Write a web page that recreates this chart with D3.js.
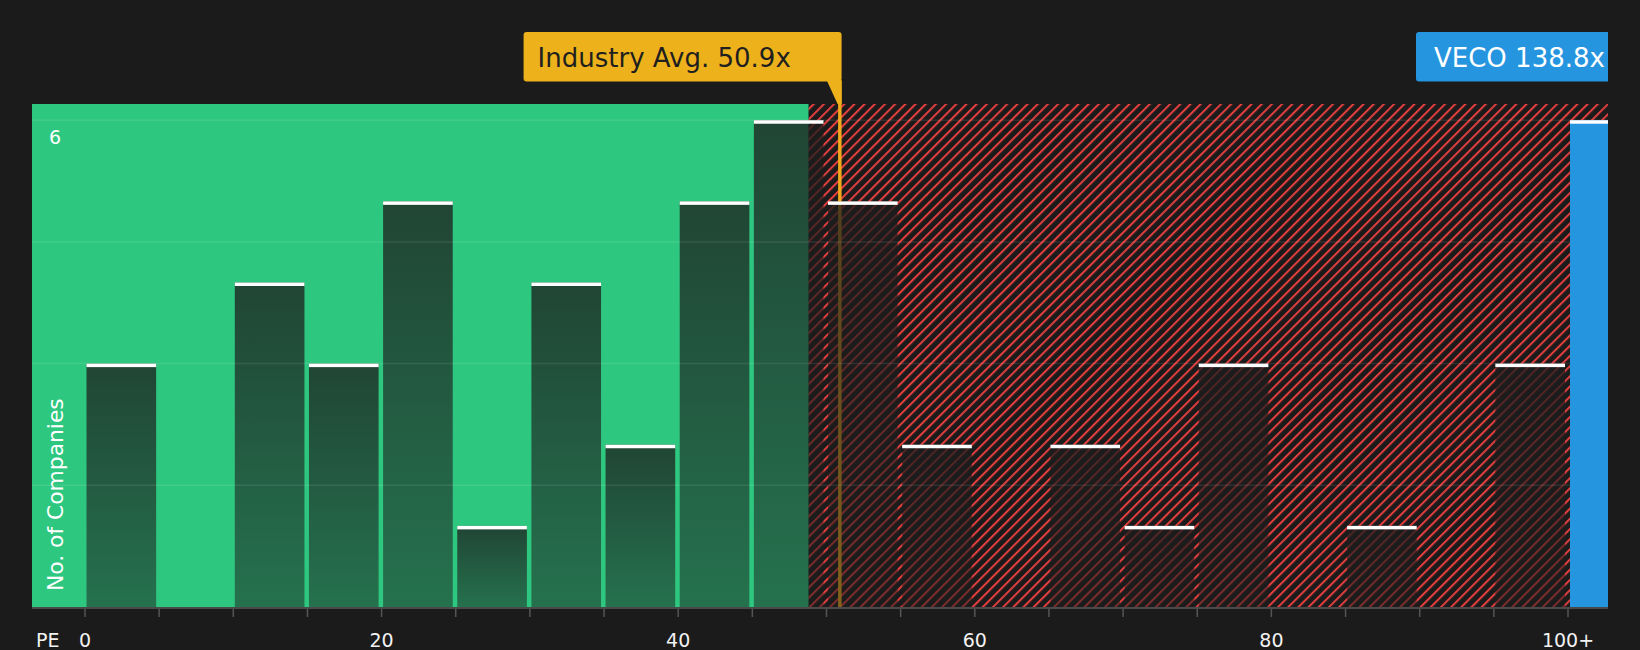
<!DOCTYPE html>
<html>
<head>
<meta charset="utf-8">
<script src="https://cdn.jsdelivr.net/npm/d3@7"></script>
<style>
  html, body { margin: 0; padding: 0; background: #1b1b1b; }
  svg { display: block; font-family: "DejaVu Sans", sans-serif; }
</style>
</head>
<body>
<div id="chart"></div>
<script>
// PE bins (start of each 5-wide bin) and number of companies in each
const binStarts = [0, 5, 10, 15, 20, 25, 30, 35, 40, 45, 50, 55, 60, 65, 70, 75, 80, 85, 90, 95];
const counts    = [3, 0, 4, 3, 5, 1, 4, 2, 5, 6, 5, 2, 0, 2, 1, 3, 0, 1, 0, 3];
const binWidth = 5;

// x axis ticks
const minorTicks = d3.range(0, 101, 5);
const xTickValues = [0, 20, 40, 60, 80, 100];
const xTickLabels = ["0", "20", "40", "60", "80", "100+"];

// y axis
const yGrid = [1.5, 3, 4.5, 6];
const yLabelTicks = [6];
const yMax = 6.2;

// reference markers
const fairUpper = 48.8;          // end of the green band
const industryAvg = 50.9;
const industryLabel = "Industry Avg. 50.9x";
const companyName = "VECO";
const companyPE = 138.8;
const companyCount = 6;

// layout
const W = 1640, H = 650;
const plot = { left: 32, right: 1608, top: 104, bottom: 607 };

const svg = d3.select("#chart")
  .append("svg")
  .attr("width", W)
  .attr("height", H);

const x = d3.scaleLinear().domain([0, 100]).range([85, 1568]);
const y = d3.scaleLinear().domain([0, yMax]).range([plot.bottom, plot.top]);

const defs = svg.append("defs");

// red hatch for the expensive zone
const hatch = defs.append("pattern")
  .attr("id", "hatch")
  .attr("patternUnits", "userSpaceOnUse")
  .attr("width", 7.2)
  .attr("height", 7.2)
  .attr("patternTransform", "rotate(45)");
hatch.append("rect").attr("width", 7.2).attr("height", 7.2).attr("fill", "#1b1b1b");
hatch.append("line")
  .attr("x1", 1).attr("x2", 1)
  .attr("y1", 0).attr("y2", 7.2)
  .attr("stroke", "#e53e3e")
  .attr("stroke-width", 2);

// dark translucent fill for the bars
const grad = defs.append("linearGradient")
  .attr("id", "barGrad")
  .attr("x1", 0).attr("x2", 0).attr("y1", 0).attr("y2", 1);
grad.append("stop").attr("offset", "0%").attr("stop-color", "#1c1c1c").attr("stop-opacity", 0.76);
grad.append("stop").attr("offset", "100%").attr("stop-color", "#1c1c1c").attr("stop-opacity", 0.5);

// background bands
svg.append("rect")
  .attr("x", plot.left)
  .attr("y", plot.top)
  .attr("width", x(fairUpper) - plot.left)
  .attr("height", plot.bottom - plot.top)
  .attr("fill", "#2ec780");

svg.append("rect")
  .attr("x", x(fairUpper))
  .attr("y", plot.top)
  .attr("width", plot.right - x(fairUpper))
  .attr("height", plot.bottom - plot.top)
  .attr("fill", "url(#hatch)");

// industry average line (sits under the bars)
svg.append("line")
  .attr("x1", x(industryAvg)).attr("x2", x(industryAvg))
  .attr("y1", 81).attr("y2", plot.bottom)
  .attr("stroke", "#f0a81c")
  .attr("stroke-width", 3.5);

// bars
const bins = binStarts.map((b, i) => ({ start: b, count: counts[i] })).filter(d => d.count > 0);

svg.selectAll("rect.bar")
  .data(bins)
  .enter()
  .append("rect")
  .attr("class", "bar")
  .attr("x", d => x(d.start) + 1.5)
  .attr("width", d => x(d.start + binWidth) - x(d.start) - 4.5)
  .attr("y", d => y(d.count))
  .attr("height", d => y(0) - y(d.count))
  .attr("fill", "url(#barGrad)");

svg.selectAll("rect.cap")
  .data(bins)
  .enter()
  .append("rect")
  .attr("class", "cap")
  .attr("x", d => x(d.start) + 1.5)
  .attr("width", d => x(d.start + binWidth) - x(d.start) - 4.5)
  .attr("y", d => y(d.count))
  .attr("height", 3.5)
  .attr("fill", "#ffffff");

// gridlines
svg.selectAll("line.grid")
  .data(yGrid)
  .enter()
  .append("line")
  .attr("class", "grid")
  .attr("x1", plot.left).attr("x2", plot.right)
  .attr("y1", d => y(d)).attr("y2", d => y(d))
  .attr("stroke", "#ffffff")
  .attr("stroke-opacity", 0.09)
  .attr("stroke-width", 1.5);

// company bar (100+)
svg.append("rect")
  .attr("x", x(100) + 2)
  .attr("width", plot.right - x(100) - 2)
  .attr("y", y(companyCount))
  .attr("height", y(0) - y(companyCount))
  .attr("fill", "#2595e0");
svg.append("rect")
  .attr("x", x(100) + 2)
  .attr("width", plot.right - x(100) - 2)
  .attr("y", y(companyCount))
  .attr("height", 3.5)
  .attr("fill", "#ffffff");

// x axis
svg.append("line")
  .attr("x1", plot.left).attr("x2", plot.right)
  .attr("y1", plot.bottom + 1).attr("y2", plot.bottom + 1)
  .attr("stroke", "#4a4a4a")
  .attr("stroke-width", 2);

svg.selectAll("line.tick")
  .data(minorTicks)
  .enter()
  .append("line")
  .attr("class", "tick")
  .attr("x1", d => x(d)).attr("x2", d => x(d))
  .attr("y1", plot.bottom + 2).attr("y2", plot.bottom + 10)
  .attr("stroke", "#555")
  .attr("stroke-width", 1.5);

svg.selectAll("text.xlab")
  .data(xTickValues)
  .enter()
  .append("text")
  .attr("class", "xlab")
  .attr("x", d => x(d))
  .attr("y", 647)
  .attr("text-anchor", "middle")
  .attr("font-size", 19)
  .attr("fill", "#f2f2f2")
  .text((d, i) => xTickLabels[i]);

svg.append("text")
  .attr("x", 36)
  .attr("y", 647)
  .attr("font-size", 19)
  .attr("fill", "#f2f2f2")
  .text("PE");

// y labels
svg.selectAll("text.ylab")
  .data(yLabelTicks)
  .enter()
  .append("text")
  .attr("class", "ylab")
  .attr("x", 49)
  .attr("y", d => y(d) + 24)
  .attr("font-size", 19)
  .attr("fill", "#ffffff")
  .text(d => d);

svg.append("text")
  .attr("transform", "translate(62.5,591) rotate(-90)")
  .attr("font-size", 21.8)
  .attr("fill", "#ffffff")
  .text("No. of Companies");

// industry average callout
const avgRight = x(industryAvg) + 1.75;
const avgLeft = avgRight - 318;
svg.append("rect")
  .attr("x", avgLeft)
  .attr("y", 32)
  .attr("width", avgRight - avgLeft)
  .attr("height", 49.5)
  .attr("rx", 3)
  .attr("fill", "#edb11c");
svg.append("path")
  .attr("d", `M${avgRight - 15},80 L${avgRight},80 L${avgRight},${plot.top} L${avgRight - 4},${plot.top} Z`)
  .attr("fill", "#edb11c");
svg.append("text")
  .attr("x", avgLeft + 14)
  .attr("y", 66.5)
  .attr("font-size", 26)
  .attr("fill", "#1f1f1f")
  .text(industryLabel);

// company callout
const coLeft = 1416;
svg.append("path")
  .attr("d", `M${coLeft + 3},32 L${plot.right},32 L${plot.right},81.5 L${coLeft + 3},81.5 Q${coLeft},81.5 ${coLeft},78.5 L${coLeft},35 Q${coLeft},32 ${coLeft + 3},32 Z`)
  .attr("fill", "#2595e0");
svg.append("text")
  .attr("x", coLeft + 18)
  .attr("y", 66.5)
  .attr("font-size", 26)
  .attr("fill", "#ffffff")
  .text(`${companyName} ${companyPE}x`);
</script>
</body>
</html>
